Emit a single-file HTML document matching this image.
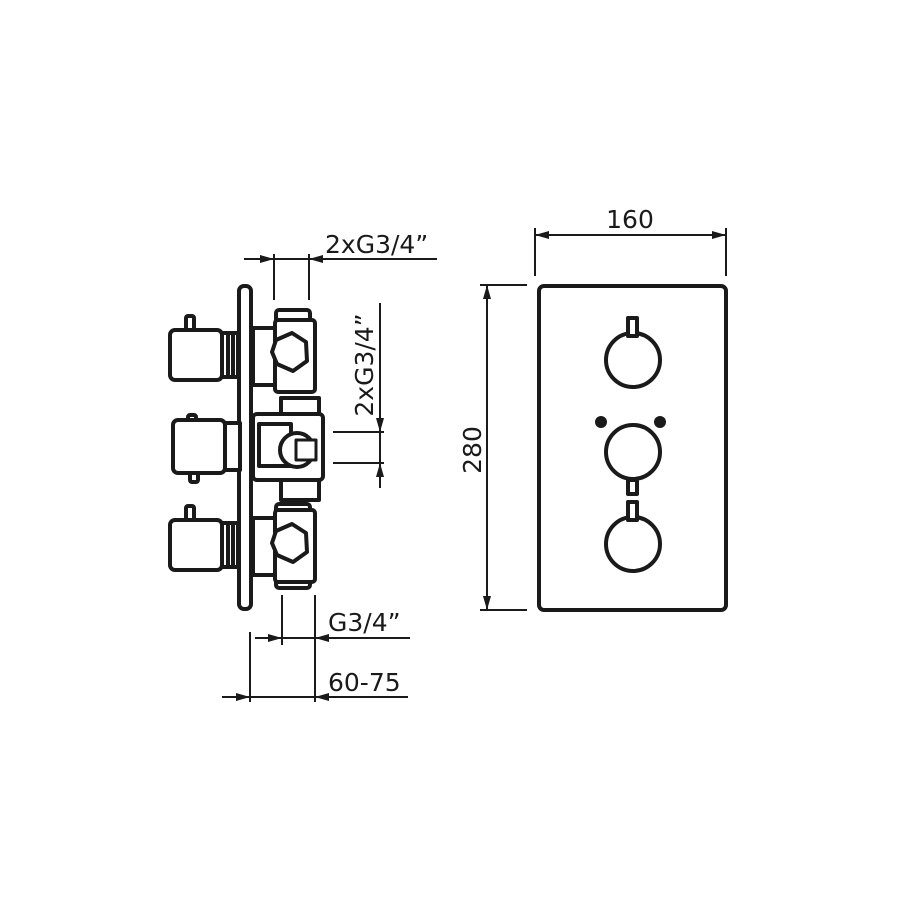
<!DOCTYPE html>
<html><head><meta charset="utf-8"><style>
html,body{margin:0;padding:0;background:#fff;}
svg{display:block;}
text{font-family:"DejaVu Sans","Liberation Sans",sans-serif;font-size:25px;fill:#1a1a1a;}
</style></head><body>
<svg width="900" height="900" viewBox="0 0 900 900" xmlns="http://www.w3.org/2000/svg">
<g stroke="#1a1a1a" fill="none">
<g stroke-width="2">
<line x1="244" y1="259" x2="437" y2="259"/>
<line x1="274" y1="254" x2="274" y2="300"/>
<line x1="309" y1="254" x2="309" y2="300"/>
<line x1="380" y1="303" x2="380" y2="488"/>
<line x1="333" y1="432" x2="384" y2="432"/>
<line x1="333" y1="463" x2="384" y2="463"/>
<line x1="282" y1="595" x2="282" y2="645"/>
<line x1="315" y1="595" x2="315" y2="702"/>
<line x1="250" y1="632" x2="250" y2="702"/>
<line x1="255" y1="638" x2="410" y2="638"/>
<line x1="222" y1="697" x2="408" y2="697"/>
<line x1="535" y1="235" x2="726" y2="235"/>
<line x1="535" y1="228" x2="535" y2="276"/>
<line x1="726" y1="228" x2="726" y2="276"/>
<line x1="487" y1="285" x2="487" y2="610"/>
<line x1="480" y1="285" x2="527" y2="285"/>
<line x1="480" y1="610" x2="527" y2="610"/>
</g>
</g>
<g fill="#1a1a1a">
<path d="M274,259l-14,-4v8z"/><path d="M309,259l14,-4v8z"/>
<path d="M380,432l-4,-14h8z"/><path d="M380,463l-4,14h8z"/>
<path d="M282,638l-14,-4v8z"/><path d="M315,638l14,-4v8z"/>
<path d="M250,697l-14,-4v8z"/><path d="M315,697l14,-4v8z"/>
<path d="M535,235l14,-4v8z"/><path d="M726,235l-14,-4v8z"/>
<path d="M487,285l-4,14h8z"/><path d="M487,610l-4,-14h8z"/>
</g>
<text x="325" y="253">2xG3/4”</text>
<text x="328" y="631">G3/4”</text>
<text x="328" y="691">60-75</text>
<text x="630" y="228" text-anchor="middle">160</text>
<text transform="translate(481,450) rotate(-90)" text-anchor="middle">280</text>
<text transform="translate(373,365) rotate(-90)" text-anchor="middle">2xG3/4”</text>

<g stroke="#1a1a1a" fill="#fff" stroke-width="4" stroke-linejoin="round">
<rect x="539" y="286" width="187" height="324" rx="5" fill="none"/>
<circle cx="633" cy="360" r="27"/>
<rect x="628" y="318" width="9" height="18" fill="#fff"/>
<circle cx="633" cy="452" r="27"/>
<rect x="628" y="480" width="9" height="14" fill="#fff"/>
<circle cx="633" cy="544" r="27"/>
<rect x="628" y="502" width="9" height="18" fill="#fff"/>
</g>
<g fill="#1a1a1a"><circle cx="601" cy="422" r="6"/><circle cx="660" cy="422" r="6"/></g>

<g stroke="#1a1a1a" fill="#fff" stroke-width="4" stroke-linejoin="round">
<rect x="239" y="286" width="12" height="323" rx="5"/>
<rect x="186" y="316" width="8" height="16" rx="2"/>
<rect x="170" y="330" width="52" height="50" rx="5"/>
<rect x="222" y="333" width="16" height="44"/>
<line x1="228" y1="335" x2="228" y2="375"/><line x1="233" y1="335" x2="233" y2="375"/>
<rect x="253" y="328" width="24" height="57"/>
<rect x="276" y="310" width="34" height="12" rx="3"/>
<rect x="276" y="378" width="34" height="12" rx="3"/>
<rect x="275" y="320" width="40" height="72" rx="3"/>
<polygon points="276,340 292,333 306,342 307,361 293,371 277,364 272,352"/>
<rect x="188" y="415" width="8" height="12" rx="2"/>
<rect x="190" y="470" width="8" height="12" rx="2"/>
<rect x="173" y="420" width="52" height="53" rx="5"/>
<rect x="225" y="423" width="15" height="47"/>
<rect x="281" y="398" width="38" height="22"/>
<rect x="281" y="478" width="38" height="22"/>
<rect x="253" y="414" width="70" height="66" rx="4"/>
<rect x="259" y="424" width="32" height="42"/>
<circle cx="297" cy="450" r="17"/>
<rect x="296" y="440" width="20" height="20" fill="#fff" stroke-width="3"/>
<rect x="186" y="506" width="8" height="16" rx="2"/>
<rect x="170" y="520" width="52" height="50" rx="5"/>
<rect x="222" y="523" width="16" height="44"/>
<line x1="228" y1="525" x2="228" y2="565"/><line x1="233" y1="525" x2="233" y2="565"/>
<rect x="253" y="518" width="24" height="57"/>
<rect x="276" y="504" width="34" height="12" rx="3"/>
<rect x="276" y="576" width="34" height="12" rx="3"/>
<rect x="275" y="510" width="40" height="72" rx="3"/>
<polygon points="276,531 292,524 306,533 307,552 293,562 277,555 272,543"/>
</g>
</svg>
</body></html>
